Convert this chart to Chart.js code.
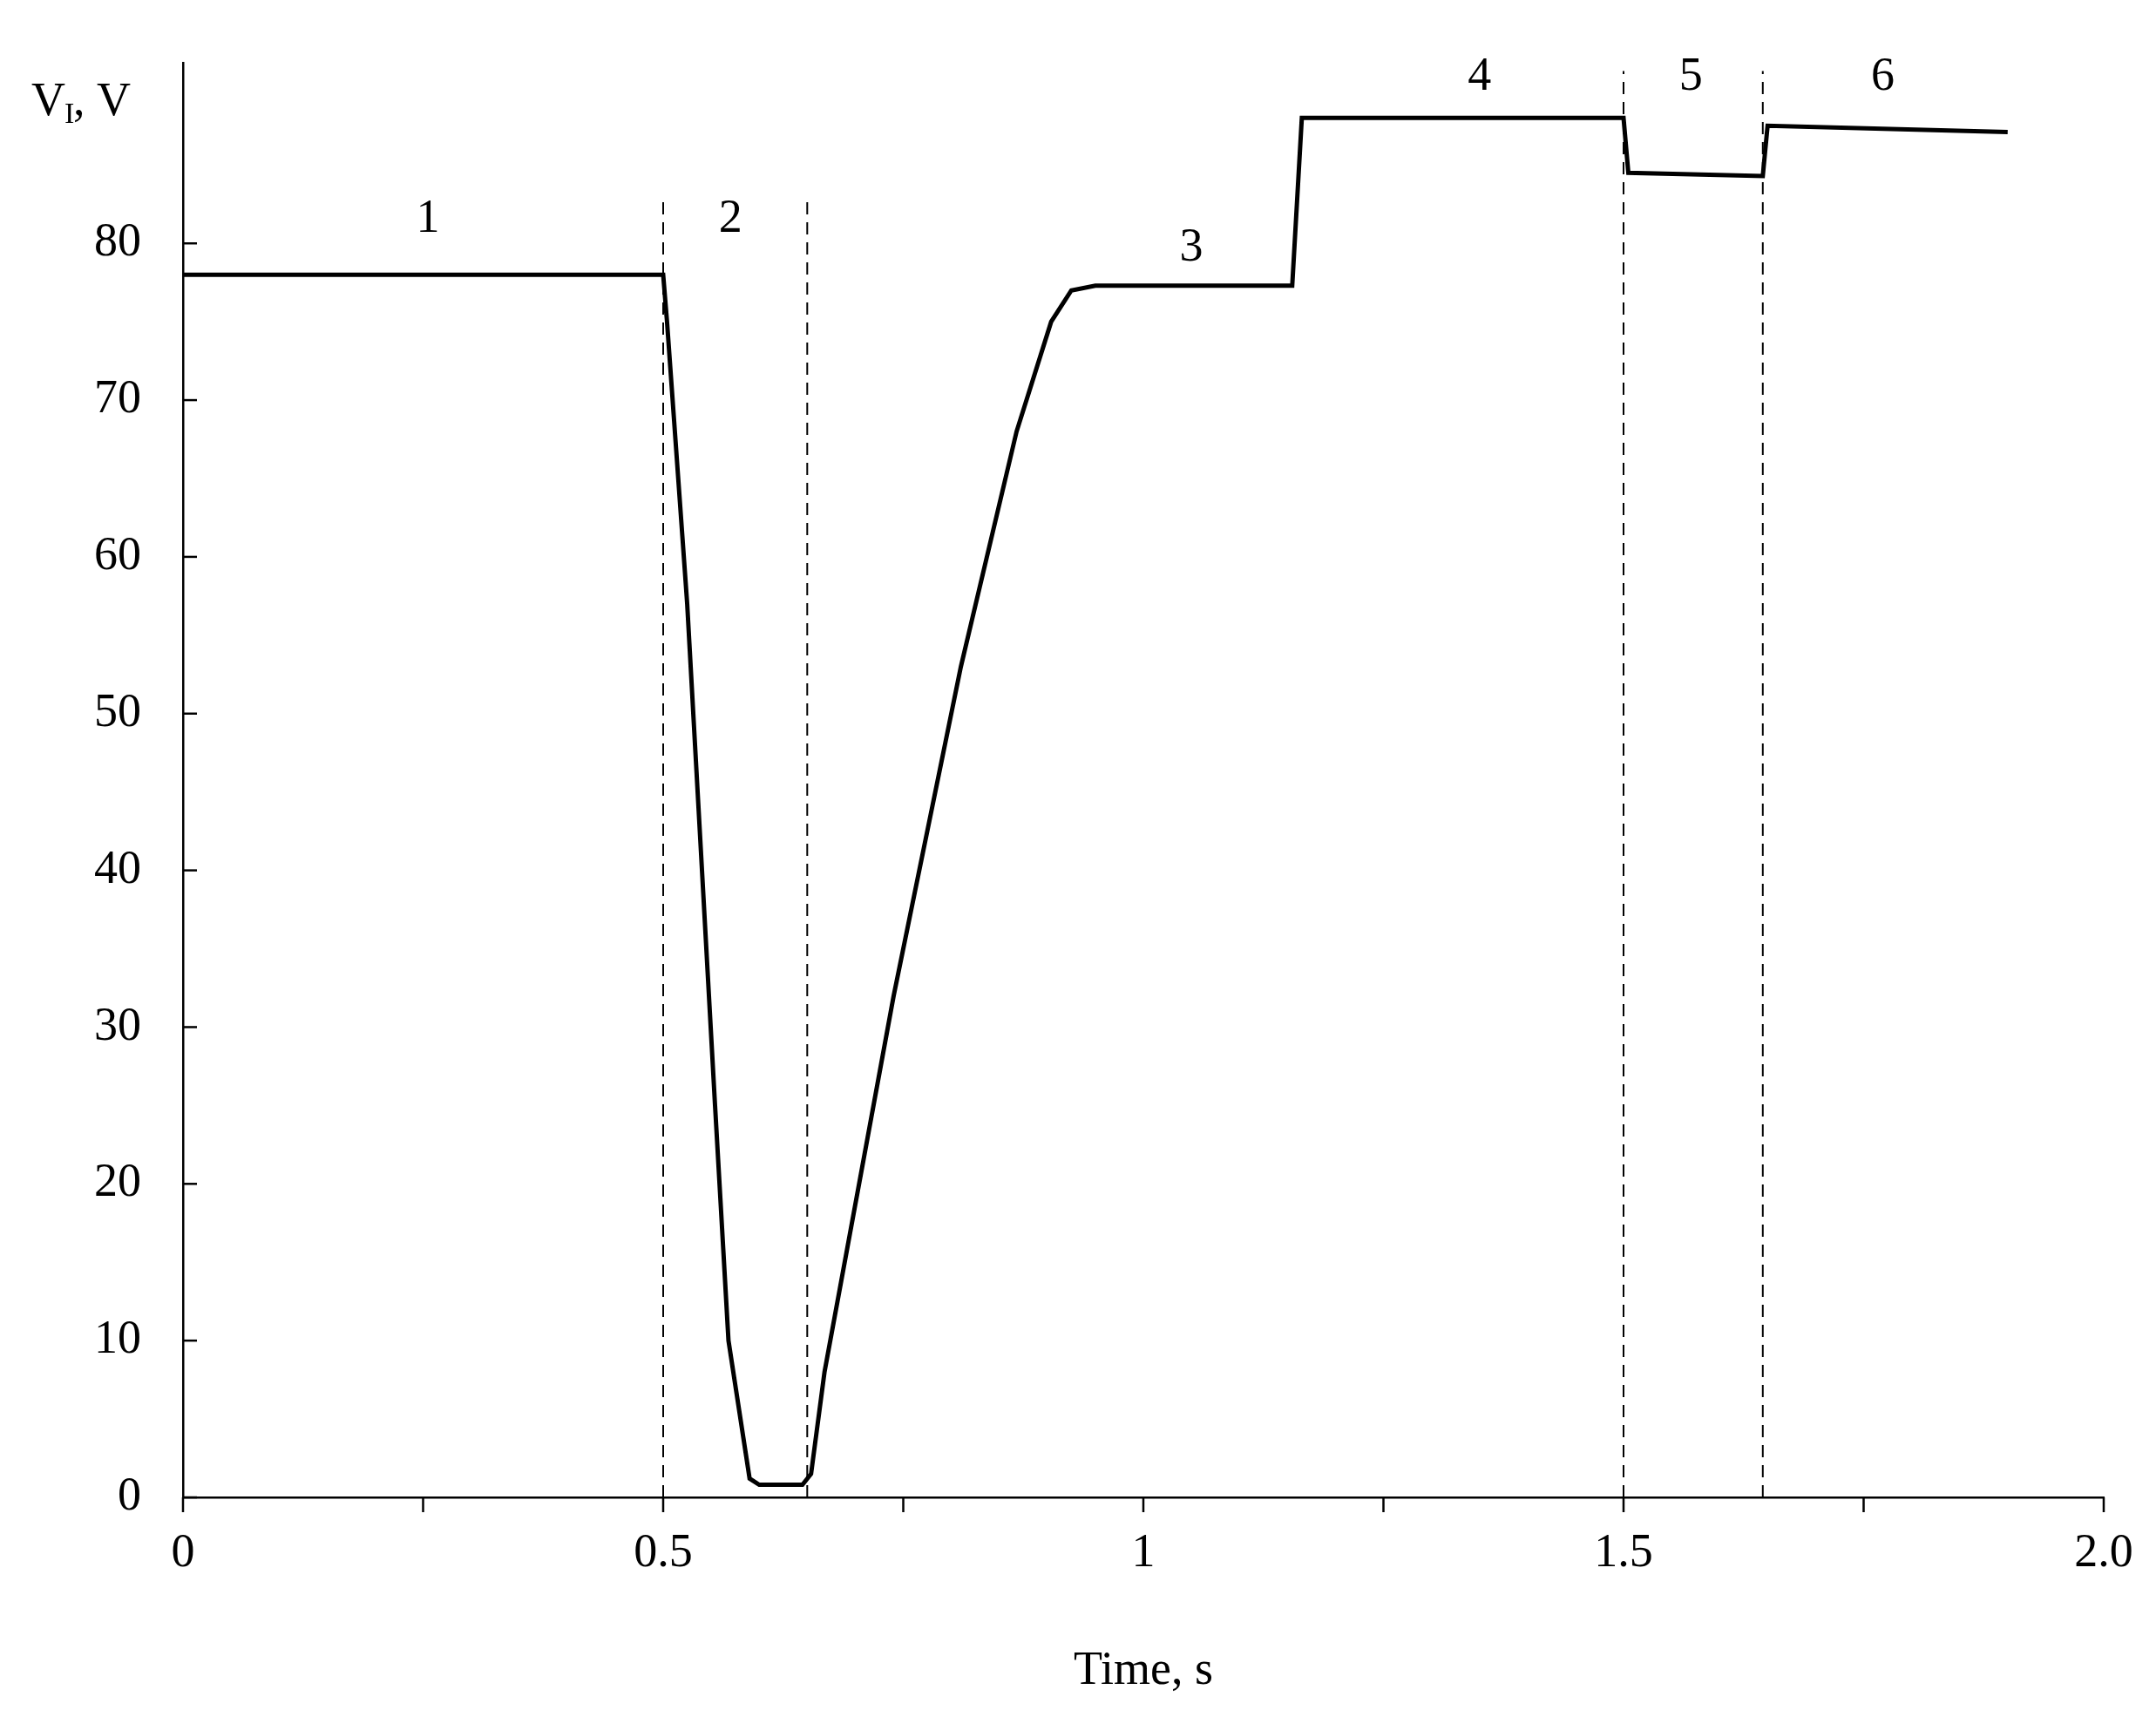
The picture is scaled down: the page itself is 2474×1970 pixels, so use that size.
<!DOCTYPE html>
<html>
<head>
<meta charset="utf-8">
<script src="https://cdn.jsdelivr.net/npm/chart.js@4"></script>
<style>
  html, body { margin: 0; padding: 0; background: #fff; }
  #wrap { width: 2474px; height: 1970px; }
</style>
</head>
<body>
<div id="wrap"><canvas id="chart" width="2474" height="1970"></canvas></div>
<script>
// voltage trace
const timeS = [0, 0.5, 0.504, 0.525, 0.554, 0.568, 0.59, 0.6, 0.645, 0.654, 0.668, 0.74, 0.81, 0.868, 0.904, 0.925, 0.95, 1.155, 1.165, 1.5, 1.505, 1.645, 1.65, 1.9];
const voltV = [78, 78, 75, 57, 25, 10, 1.2, 0.8, 0.8, 1.5, 8, 32, 53, 68, 75, 77, 77.3, 77.3, 88, 88, 84.5, 84.3, 87.5, 87.1];

const markerTimes = [0.5, 0.65, 1.5, 1.645];
const markerTops = [83, 83, 91, 91];

const zoneLabels = ['1', '2', '3', '4', '5', '6'];
const zoneX = [0.255, 0.57, 1.05, 1.35, 1.57, 1.77];
const zoneY = [81.5, 81.5, 79.7, 90.6, 90.6, 90.6];

const xTicks = [0, 0.5, 1, 1.5, 2];
const xTickText = ['0', '0.5', '1', '1.5', '2.0'];
const xMinor = [0.25, 0.75, 1.25, 1.75];
const yTicks = [0, 10, 20, 30, 40, 50, 60, 70, 80];

const FONT = '"Liberation Serif", "DejaVu Serif", serif';

const datasets = [{
    data: timeS.map((t, i) => ({ x: t, y: voltV[i] })),
    borderColor: '#000',
    borderWidth: 5,
    pointRadius: 0,
    tension: 0
}];
markerTimes.forEach((t, i) => {
    datasets.push({
        data: [{ x: t, y: 0 }, { x: t, y: markerTops[i] }],
        borderColor: '#000',
        borderWidth: 2,
        borderDash: [14, 9],
        pointRadius: 0
    });
});

const decor = {
    id: 'decor',
    afterDraw(chart) {
        const ctx = chart.ctx;
        const xs = chart.scales.x, ys = chart.scales.y;
        const area = chart.chartArea;
        ctx.save();
        ctx.strokeStyle = '#000';
        ctx.lineWidth = 2.5;
        // y ticks pointing inward
        yTicks.forEach(v => {
            const py = ys.getPixelForValue(v);
            ctx.beginPath();
            ctx.moveTo(area.left, py);
            ctx.lineTo(area.left + 16, py);
            ctx.stroke();
        });
        // x ticks pointing down
        xTicks.concat(xMinor).forEach(v => {
            const px = xs.getPixelForValue(v);
            ctx.beginPath();
            ctx.moveTo(px, area.bottom);
            ctx.lineTo(px, area.bottom + 17);
            ctx.stroke();
        });
        ctx.fillStyle = '#000';
        ctx.font = '54px ' + FONT;
        ctx.textAlign = 'center';
        ctx.textBaseline = 'middle';
        zoneLabels.forEach((s, i) => {
            ctx.fillText(s, xs.getPixelForValue(zoneX[i]), ys.getPixelForValue(zoneY[i]));
        });
        // axis titles
        ctx.fillText('Time, s', xs.getPixelForValue(1), 1918);
        ctx.textAlign = 'left';
        ctx.fillText('V', 36, 118);
        ctx.font = '34px ' + FONT;
        ctx.fillText('I', 74, 132);
        ctx.font = '54px ' + FONT;
        ctx.fillText(', V', 84, 118);
        ctx.restore();
    }
};

new Chart(document.getElementById('chart'), {
    type: 'line',
    data: { datasets },
    options: {
        responsive: false,
        animation: false,
        layout: { padding: { top: 47, right: 60, left: 0, bottom: 0 } },
        plugins: { legend: { display: false }, tooltip: { enabled: false } },
        scales: {
            x: {
                type: 'linear',
                min: 0,
                max: 2,
                afterBuildTicks: s => { s.ticks = xTicks.map(v => ({ value: v })); },
                afterFit: s => { s.height = 252; },
                grid: { display: false },
                border: { display: true, color: '#000', width: 2.5 },
                ticks: {
                    color: '#000',
                    font: { family: FONT, size: 54 },
                    padding: 24,
                    maxRotation: 0,
                    callback: (v) => xTickText[xTicks.indexOf(v)]
                }
            },
            y: {
                min: 0,
                max: 91.5,
                afterBuildTicks: s => { s.ticks = yTicks.map(v => ({ value: v })); },
                afterFit: s => { s.width = 210; },
                grid: { display: false },
                border: { display: true, color: '#000', width: 2.5 },
                ticks: {
                    color: '#000',
                    font: { family: FONT, size: 54 },
                    padding: 40
                }
            }
        }
    },
    plugins: [decor]
});
</script>
</body>
</html>
